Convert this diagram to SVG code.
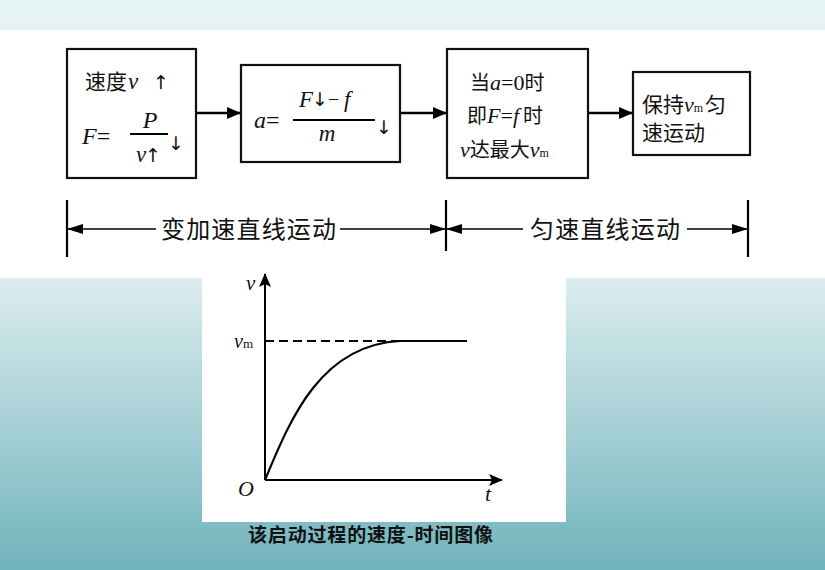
<svg xmlns="http://www.w3.org/2000/svg" width="825" height="570" viewBox="0 0 825 570">
<defs>
<linearGradient id="bg" x1="0" y1="278" x2="0" y2="570" gradientUnits="userSpaceOnUse">
<stop offset="0" stop-color="#dcedef"/>
<stop offset="1" stop-color="#70b3bc"/>
</linearGradient>
<marker id="ah" markerWidth="14" markerHeight="12" refX="13" refY="6" orient="auto" markerUnits="userSpaceOnUse">
<path d="M0,0 L14,6 L0,12 Z" fill="#000"/>
</marker>
<marker id="dh" markerWidth="16" markerHeight="10" refX="15" refY="5" orient="auto-start-reverse" markerUnits="userSpaceOnUse">
<path d="M0,0 L16,5 L0,10 Z" fill="#000"/>
</marker>
<marker id="axh" markerWidth="14" markerHeight="12" refX="13" refY="6" orient="auto" markerUnits="userSpaceOnUse">
<path d="M0,0 L14,6 L0,12 L3,6 Z" fill="#000"/>
</marker>
</defs>
<style>
.box{fill:#fff;stroke:#111;stroke-width:2.2}
.cn{font-family:"Noto Sans CJK SC","Noto Sans",sans-serif;fill:#111}
.m{font-family:"Liberation Serif","DejaVu Serif",serif;font-style:italic;fill:#111}
.r{font-family:"Liberation Serif","DejaVu Serif",serif;fill:#111}
.arr{font-family:"DejaVu Sans",sans-serif;fill:#111;font-size:19px}
.conn{stroke:#000;stroke-width:2.6;fill:none}
.dim{stroke:#000;stroke-width:1.6;fill:none}
.tick{stroke:#000;stroke-width:2.2}
.ax{stroke:#000;stroke-width:2;fill:none}
</style>
<rect x="0" y="0" width="825" height="570" fill="url(#bg)"/>
<rect x="0" y="0" width="825" height="30" fill="#e6f3f3"/>
<rect x="0" y="30" width="825" height="248" fill="#fff"/>
<rect x="202" y="270" width="364" height="252" fill="#fff"/>

<g id="node1">
<rect class="box" x="67" y="49" width="129" height="129"/>
<text x="85" y="89" font-size="21"><tspan class="cn">速度</tspan><tspan class="m" dx="1" font-size="23">v</tspan></text>
<text class="arr" x="153" y="89">↑</text>
<text class="m" x="82" y="144" font-size="24">F<tspan class="r" font-style="normal">=</tspan></text>
<text class="m" x="150" y="128" font-size="24" text-anchor="middle">P</text>
<line x1="130" y1="134" x2="168" y2="134" stroke="#000" stroke-width="2"/>
<text class="m" x="136" y="162" font-size="23">v</text>
<text class="arr" x="145" y="162">↑</text>
<text class="arr" x="168" y="150">↓</text>
</g>

<g id="node2">
<rect class="box" x="241" y="65" width="159" height="97"/>
<text class="m" x="254" y="128" font-size="24">a<tspan class="r" font-style="normal">=</tspan></text>
<text class="m" x="299" y="107" font-size="23">F</text>
<text class="arr" x="312" y="106">↓</text>
<text class="r" x="328" y="106" font-size="20">−</text>
<text class="m" x="344" y="107" font-size="23">f</text>
<line x1="293" y1="120" x2="375" y2="120" stroke="#000" stroke-width="2"/>
<text class="m" x="327" y="141" font-size="23" text-anchor="middle">m</text>
<text class="arr" x="376" y="134">↓</text>
</g>

<g id="node3">
<rect class="box" x="447" y="49" width="141" height="129"/>
<text x="470" y="90" font-size="20"><tspan class="cn">当</tspan><tspan class="m" font-size="22">a</tspan><tspan class="r" font-size="22">=0</tspan><tspan class="cn">时</tspan></text>
<text x="467" y="123" font-size="20"><tspan class="cn">即</tspan><tspan class="m" font-size="22">F</tspan><tspan class="r" font-size="22">=</tspan><tspan class="m" font-size="22">f</tspan><tspan class="cn" dx="4">时</tspan></text>
<text x="460" y="157" font-size="20"><tspan class="m" font-size="22">v</tspan><tspan class="cn">达最大</tspan><tspan class="m" font-size="22">v</tspan><tspan class="r" font-size="12">m</tspan></text>
</g>

<g id="node4">
<rect class="box" x="633" y="72" width="117" height="83"/>
<text x="642" y="112" font-size="21"><tspan class="cn">保持</tspan><tspan class="m" font-size="22">v</tspan><tspan class="r" font-size="12">m</tspan><tspan class="cn" dx="2">匀</tspan></text>
<text class="cn" x="642" y="140" font-size="21">速运动</text>
</g>

<g id="connectors">
<line class="conn" x1="196" y1="113" x2="240" y2="113" marker-end="url(#ah)"/>
<line class="conn" x1="400" y1="113" x2="446" y2="113" marker-end="url(#ah)"/>
<line class="conn" x1="588" y1="113" x2="632" y2="113" marker-end="url(#ah)"/>
</g>

<g id="dimensions">
<line class="tick" x1="67" y1="200" x2="67" y2="257"/>
<line class="tick" x1="446" y1="200" x2="446" y2="251"/>
<line class="tick" x1="748" y1="200" x2="748" y2="257"/>
<line class="dim" x1="68" y1="229" x2="156" y2="229" marker-start="url(#dh)"/>
<line class="dim" x1="340" y1="229" x2="445" y2="229" marker-end="url(#dh)"/>
<line class="dim" x1="447" y1="229" x2="523" y2="229" marker-start="url(#dh)"/>
<line class="dim" x1="687" y1="229" x2="747" y2="229" marker-end="url(#dh)"/>
<text class="cn" x="161" y="238" font-size="24" textLength="175">变加速直线运动</text>
<text class="cn" x="530" y="238" font-size="24" textLength="150">匀速直线运动</text>
</g>

<g id="graph">
<line class="ax" x1="265" y1="480" x2="265" y2="274" marker-end="url(#axh)"/>
<line class="ax" x1="265" y1="480" x2="502" y2="480" marker-end="url(#axh)"/>
<line x1="265" y1="341" x2="397" y2="341" stroke="#000" stroke-width="2" stroke-dasharray="9,5"/>
<line x1="397" y1="341" x2="467" y2="341" stroke="#000" stroke-width="2"/>
<path d="M265,480 C290,420 320,345 400,341" fill="none" stroke="#000" stroke-width="2.2"/>
<text class="m" x="246" y="290" font-size="21">v</text>
<text x="234" y="348" font-size="20"><tspan class="m">v</tspan><tspan class="r" font-size="13">m</tspan></text>
<text class="m" x="238" y="496" font-size="22">O</text>
<text class="m" x="485" y="501" font-size="22">t</text>
</g>

<text class="cn" x="248" y="542" font-size="19" font-weight="bold" textLength="245">该启动过程的速度-时间图像</text>
</svg>
